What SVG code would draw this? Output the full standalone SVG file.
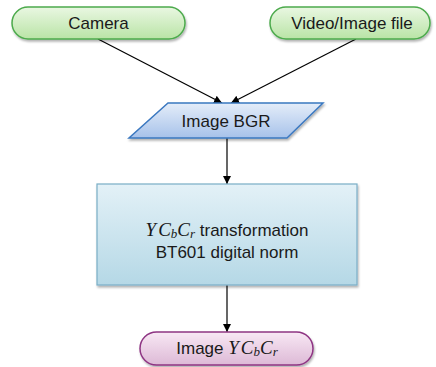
<svg xmlns="http://www.w3.org/2000/svg" width="436" height="367" viewBox="0 0 436 367">
<defs>
<linearGradient id="gGreen" x1="0" y1="0" x2="0" y2="1"><stop offset="0" stop-color="#e9f7e2"/><stop offset="1" stop-color="#b9e4a6"/></linearGradient>
<linearGradient id="gBlue" x1="0" y1="0" x2="0" y2="1"><stop offset="0" stop-color="#e4edf9"/><stop offset="1" stop-color="#a7c2ea"/></linearGradient>
<linearGradient id="gCyan" x1="0" y1="0" x2="0" y2="1"><stop offset="0" stop-color="#e3f1f7"/><stop offset="1" stop-color="#b5d8e6"/></linearGradient>
<linearGradient id="gPink" x1="0" y1="0" x2="0" y2="1"><stop offset="0" stop-color="#f8e8f4"/><stop offset="1" stop-color="#ddb9d6"/></linearGradient>
<filter id="sh" x="-10%" y="-10%" width="120%" height="130%"><feDropShadow dx="1" dy="2" stdDeviation="1.2" flood-color="#000" flood-opacity="0.3"/></filter>
<marker id="arr" viewBox="0 0 10 10" refX="10" refY="5" markerWidth="8" markerHeight="8" markerUnits="userSpaceOnUse" orient="auto"><path d="M0,0 L10,5 L0,10 z" fill="#000"/></marker>
<style>
.t{font-family:"Liberation Sans",Arial,sans-serif;font-size:17px;fill:#1a1a1a;text-anchor:middle}
.m{font-family:"Liberation Serif","Times New Roman",serif;font-style:italic;font-size:19px}
.s{font-family:"Liberation Serif","Times New Roman",serif;font-style:italic;font-size:13px}
.c{stroke:#000;stroke-width:1.2;fill:none;marker-end:url(#arr)}
</style>
</defs>
<g id="connectors">
<line class="c" x1="98" y1="39" x2="222" y2="103"/>
<line class="c" x1="356" y1="39" x2="231" y2="103"/>
<line class="c" x1="227" y1="138" x2="227" y2="184"/>
<line class="c" x1="227" y1="285" x2="227" y2="332"/>
</g>
<g id="camera">
<rect x="12" y="7" width="173" height="32" rx="16" fill="url(#gGreen)" stroke="#4caa4c" stroke-width="1.5" filter="url(#sh)"/>
<text class="t" x="98.5" y="29">Camera</text>
</g>
<g id="video">
<rect x="270" y="7" width="160" height="32" rx="16" fill="url(#gGreen)" stroke="#4caa4c" stroke-width="1.5" filter="url(#sh)"/>
<text class="t" x="352" y="29">Video/Image file</text>
</g>
<g id="bgr">
<polygon points="168,103 323,103 287,138 129,138" fill="url(#gBlue)" stroke="#3b78c0" stroke-width="1.5" filter="url(#sh)"/>
<text class="t" x="226" y="127">Image BGR</text>
</g>
<g id="transform">
<rect x="97" y="184" width="260" height="101" fill="url(#gCyan)" stroke="#7aaec6" stroke-width="1.2" filter="url(#sh)"/>
<text class="t" x="227" y="236"><tspan class="m">Y</tspan><tspan class="m" dx="2">C</tspan><tspan class="s" dy="2">b</tspan><tspan class="m" dy="-2">C</tspan><tspan class="s" dy="2">r</tspan><tspan dy="-2"> transformation</tspan></text>
<text class="t" x="227" y="258">BT601 digital norm</text>
</g>
<g id="ycbcr">
<rect x="140" y="332" width="173" height="33" rx="16.5" fill="url(#gPink)" stroke="#8e3483" stroke-width="1.5" filter="url(#sh)"/>
<text class="t" x="227" y="354">Image <tspan class="m">Y</tspan><tspan class="m" dx="2">C</tspan><tspan class="s" dy="2">b</tspan><tspan class="m" dy="-2">C</tspan><tspan class="s" dy="2">r</tspan></text>
</g>
</svg>
